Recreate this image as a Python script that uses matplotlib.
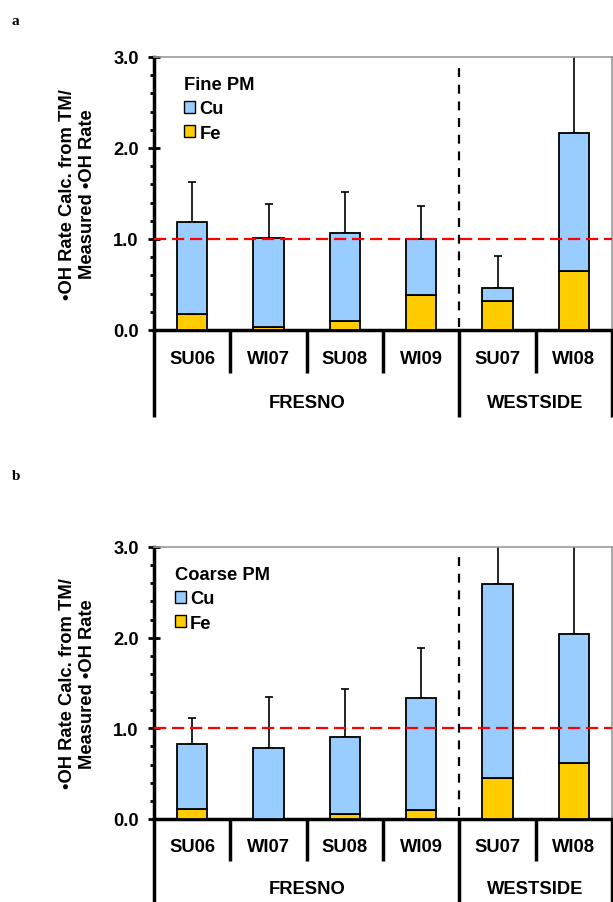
import numpy as np
import matplotlib
matplotlib.use('Agg')
import matplotlib.pyplot as plt
from matplotlib.patches import Patch
from matplotlib.ticker import MultipleLocator, FormatStrFormatter

plt.rcParams['font.family'] = ['Liberation Sans', 'DejaVu Sans']
plt.rcParams['font.weight'] = 'bold'

SEASONS = ['SU06', 'WI07', 'SU08', 'WI09', 'SU07', 'WI08']
SITES = ['FRESNO', 'WESTSIDE']
SITE_SIZES = [4, 2]

# stacked contributions (Fe at the bottom, Cu on top) and upper error (SD)
FINE_FE = [0.18, 0.03, 0.095, 0.38, 0.32, 0.65]
FINE_CU = [1.01, 0.98, 0.975, 0.62, 0.14, 1.51]
FINE_ERR = [0.44, 0.38, 0.45, 0.36, 0.35, 1.40]

COARSE_FE = [0.11, 0.0, 0.05, 0.096, 0.45, 0.62]
COARSE_CU = [0.72, 0.78, 0.85, 1.24, 2.14, 1.42]
COARSE_ERR = [0.28, 0.57, 0.53, 0.555, 1.10, 1.50]

CU_COLOR = '#99CCFF'
FE_COLOR = '#FFCC00'
FS = 13.2
W, H = 613, 903


def draw_category_axis(ax, sep_bottom, group_bottom, label_y, group_y):
    trans = ax.get_xaxis_transform()
    bounds = np.arange(len(SEASONS) + 1) - 0.5
    group_edges = set(np.cumsum([0] + SITE_SIZES) - 0.5)
    for b in bounds:
        bottom = group_bottom if b in group_edges else sep_bottom
        ax.plot([b, b], [0, bottom], transform=trans, color='black', lw=2.5,
                clip_on=False, solid_capstyle='butt')
    for i, s in enumerate(SEASONS):
        ax.text(i, label_y, s, transform=trans, ha='center', va='center',
                fontsize=FS, fontweight='bold')
    start = 0
    for name, n in zip(SITES, SITE_SIZES):
        ax.text(start + (n - 1) / 2, group_y, name, transform=trans,
                ha='center', va='center', fontsize=FS, fontweight='bold')
        start += n


def draw_panel(ax, fe, cu, err, title, legend_anchor, cat_geom):
    x = np.arange(len(SEASONS))
    fe = np.array(fe)
    cu = np.array(cu)
    total = fe + cu
    ax.bar(x, fe, width=0.4, color=FE_COLOR, edgecolor='black', lw=1.3, zorder=3)
    ax.bar(x, cu, bottom=fe, width=0.4, color=CU_COLOR, edgecolor='black', lw=1.3, zorder=3)
    ax.errorbar(x, total, yerr=[np.zeros(len(x)), err], fmt='none', ecolor='black',
                elinewidth=1.2, capsize=3, capthick=1.2, zorder=2)

    ax.axhline(1.0, color='red', lw=1.6, dashes=(5.5, 2.6), zorder=4)
    ax.plot([3.5, 3.5], [0.03, 2.95], color='black', lw=1.6, dashes=(4, 3.5), zorder=1)

    ax.set_xlim(-0.5, 5.5)
    ax.set_ylim(0, 3.0)
    ax.yaxis.set_major_locator(MultipleLocator(1.0))
    ax.yaxis.set_minor_locator(MultipleLocator(0.2))
    ax.yaxis.set_major_formatter(FormatStrFormatter('%.1f'))
    ax.set_xticks([])
    ax.tick_params(axis='y', which='major', direction='inout', length=8, width=2,
                   labelsize=FS, pad=7)
    ax.tick_params(axis='y', which='minor', direction='out', length=3, width=2)
    for lab in ax.get_yticklabels():
        lab.set_fontweight('bold')

    for side in ('left', 'bottom'):
        ax.spines[side].set_linewidth(2.5)
        ax.spines[side].set_color('black')
    for side in ('top', 'right'):
        ax.spines[side].set_linewidth(1.2)
        ax.spines[side].set_color('#999999')

    ax.set_ylabel('\u2022OH Rate Calc. from TM/\nMeasured \u2022OH Rate',
                  fontsize=FS, fontweight='bold', labelpad=12, linespacing=1.25)

    handles = [Patch(facecolor=CU_COLOR, edgecolor='black', lw=1),
               Patch(facecolor=FE_COLOR, edgecolor='black', lw=1)]
    leg = ax.legend(handles, ['Cu', 'Fe'], title=title, loc='upper left',
                    bbox_to_anchor=legend_anchor, frameon=False, fontsize=FS,
                    title_fontproperties={'weight': 'bold', 'size': FS},
                    handlelength=0.6, handleheight=0.6, handletextpad=0.25,
                    labelspacing=0.4, borderpad=0, borderaxespad=0,
                    alignment='left')
    for t in leg.get_texts():
        t.set_fontweight('bold')

    draw_category_axis(ax, *cat_geom)


fig = plt.figure(figsize=(W / 100, H / 100), dpi=100)

ax_a = fig.add_axes([154 / W, 1 - 331 / H, 458 / W, 273 / H])
draw_panel(ax_a, FINE_FE, FINE_CU, FINE_ERR, 'Fine PM', (0.065, 0.93),
           (-0.1575, -0.32, -0.106, -0.264))

ax_b = fig.add_axes([154 / W, 1 - 820 / H, 458 / W, 272 / H])
draw_panel(ax_b, COARSE_FE, COARSE_CU, COARSE_ERR, 'Coarse PM', (0.045, 0.93),
           (-0.154, -0.31, -0.10, -0.254))

fig.text(12 / W, 1 - 25 / H, 'a', family='Liberation Serif', fontweight='bold', fontsize=11)
fig.text(12 / W, 1 - 480 / H, 'b', family='Liberation Serif', fontweight='bold', fontsize=11)

fig.savefig('out.png', dpi=100)
